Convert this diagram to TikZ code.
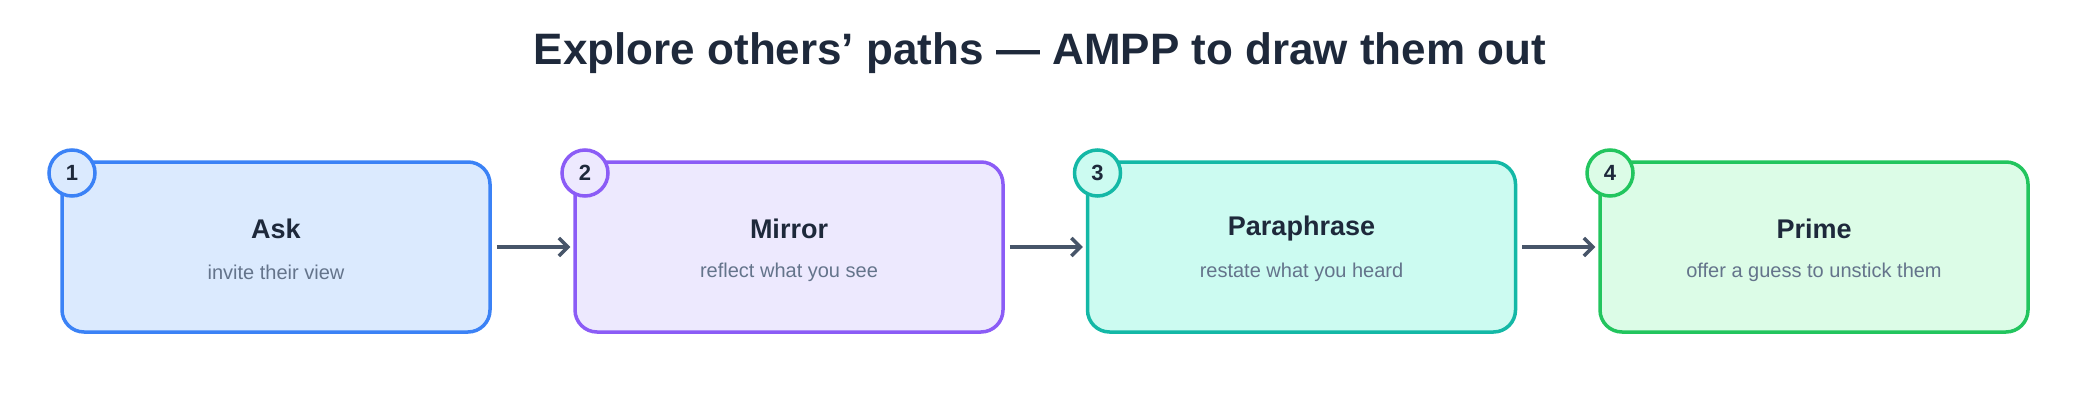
\documentclass[tikz,border=0pt]{standalone}
\usepackage{fontspec}
\setmainfont{Liberation Sans}
\usetikzlibrary{arrows.meta}
\definecolor{c1}{HTML}{3B82F6}\definecolor{f1}{HTML}{DBEAFE}
\definecolor{c2}{HTML}{8B5CF6}\definecolor{f2}{HTML}{EDE9FE}
\definecolor{c3}{HTML}{14B8A6}\definecolor{f3}{HTML}{CCFBF1}
\definecolor{c4}{HTML}{22C55E}\definecolor{f4}{HTML}{DCFCE7}
\definecolor{ink}{HTML}{1E293B}\definecolor{sub}{HTML}{64748B}\definecolor{arr}{HTML}{475569}
\begin{document}
\begin{tikzpicture}[x=1pt,y=-1pt,
 stepbox/.style={draw=c#1,fill=f#1,line width=3.5pt,rounded corners=22pt,minimum width=428pt,minimum height=170pt,inner sep=0pt},
 badge/.style={circle,draw=c#1,fill=f#1,line width=3.5pt,minimum size=46pt,inner sep=0pt,font=\fontsize{22}{24}\selectfont\bfseries,text=ink},
 ttl/.style={font=\fontsize{27}{30}\selectfont\bfseries,text=ink},
 sbt/.style={font=\fontsize{20}{24}\selectfont,text=sub},
 conn/.style={draw=arr,line width=3.5pt,-{Straight Barb[length=9pt,width=18pt,line width=3.5pt]}}]
\useasboundingbox (0,0) rectangle (2080,420);
\node[font=\fontsize{44}{50}\selectfont\bfseries,text=ink] (title) at (1040,53) {Explore others’ paths — AMPP to draw them out};
\foreach \i/\x/\t/\s in {1/276/Ask/invite their view,2/789/Mirror/reflect what you see,3/1301.5/Paraphrase/restate what you heard,4/1814/Prime/offer a guess to unstick them}{
 \node[stepbox=\i] (b\i) at (\x,247) {};
 \node[ttl] (t\i) at (\x,229) {\t};
 \node[sbt] (s\i) at (\x,272) {\s};
 \node[badge=\i] (n\i) at (\x-204,173) {\i};
}
\foreach \a/\b in {1/2,2/3,3/4}{
 \draw[conn] ([xshift=5pt]b\a.east) -- ([xshift=-3pt]b\b.west);
}
\end{tikzpicture}
\end{document}
